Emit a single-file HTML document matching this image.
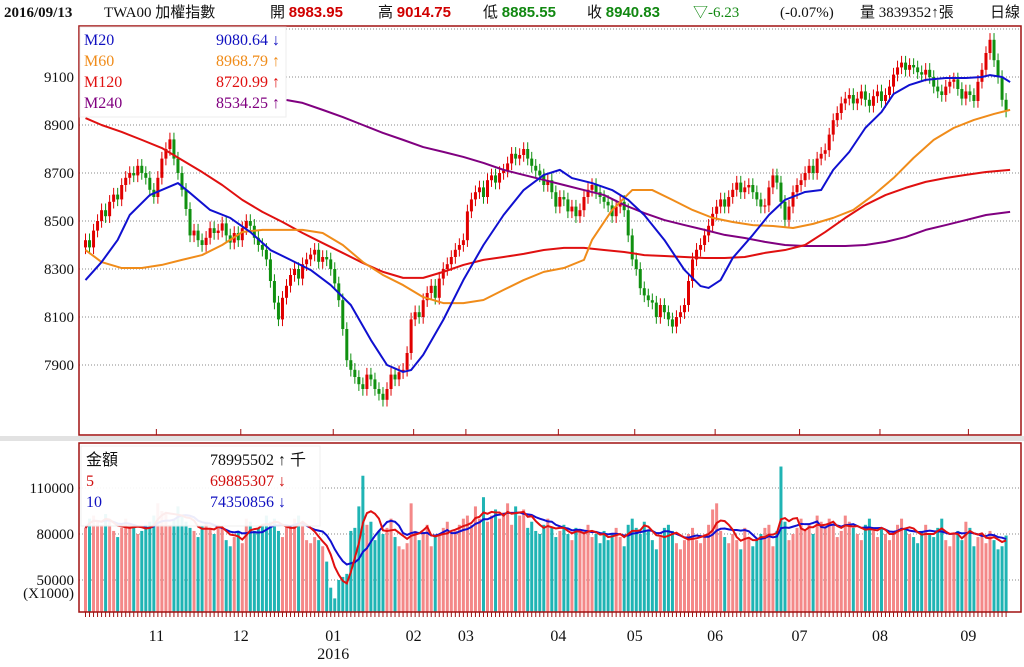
<!DOCTYPE html>
<html><head><meta charset="utf-8">
<style>
html,body{margin:0;padding:0;background:#fff;}
body{width:1024px;height:662px;overflow:hidden;font-family:"Liberation Serif","Noto Serif CJK SC","Noto Sans CJK TC",serif;}
svg text{font-family:"Liberation Serif","Noto Sans CJK TC",serif;}
</style></head>
<body>
<svg id="chart" width="1024" height="662" viewBox="0 0 1024 662" xmlns="http://www.w3.org/2000/svg">
<g id="header" font-size="15">
  <text x="4" y="17" font-weight="bold" fill="#111">2016/09/13</text>
  <text x="104" y="17" fill="#111">TWA00 加權指數</text>
  <text x="270" y="17" fill="#111">開 <tspan fill="#d00000" font-weight="bold" font-family="Liberation Sans">8983.95</tspan></text>
  <text x="378" y="17" fill="#111">高 <tspan fill="#d00000" font-weight="bold" font-family="Liberation Sans">9014.75</tspan></text>
  <text x="483" y="17" fill="#111">低 <tspan fill="#118811" font-weight="bold" font-family="Liberation Sans">8885.55</tspan></text>
  <text x="587" y="17" fill="#111">收 <tspan fill="#118811" font-weight="bold" font-family="Liberation Sans">8940.83</tspan></text>
  <text x="693" y="17" fill="#118811" font-family="Liberation Sans">▽-6.23</text>
  <text x="780" y="17" fill="#111">(-0.07%)</text>
  <text x="860" y="17" fill="#111">量 3839352↑張</text>
  <text x="990" y="17" fill="#111">日線</text>
</g>
<rect x="0" y="436" width="1024" height="5" fill="#e2e2e2"/>
<g id="main"></g>
<g id="vol"></g>
<g id="xaxis"></g>
</svg>
<script>
const closes=[8420,8390,8460,8500,8545,8520,8580,8610,8590,8650,
8680,8700,8690,8730,8700,8680,8630,8600,8680,8760,
8800,8840,8760,8700,8630,8550,8440,8460,8420,8400,
8430,8470,8450,8460,8490,8440,8410,8450,8420,8470,
8500,8480,8430,8400,8380,8340,8250,8160,8090,8180,
8230,8275,8300,8260,8320,8340,8360,8380,8330,8350,
8340,8300,8240,8170,8050,7920,7880,7850,7820,7800,
7860,7840,7800,7780,7755,7800,7860,7840,7870,7880,
7950,8090,8120,8100,8170,8200,8230,8180,8260,8300,
8320,8350,8380,8400,8420,8540,8590,8620,8640,8600,
8670,8690,8660,8700,8710,8740,8780,8760,8775,8800,
8760,8730,8710,8690,8650,8670,8620,8560,8600,8590,
8540,8560,8520,8545,8600,8630,8650,8620,8600,8580,
8565,8520,8560,8580,8545,8440,8340,8300,8220,8190,
8170,8160,8100,8150,8120,8090,8060,8100,8120,8150,
8250,8340,8380,8400,8440,8480,8530,8560,8590,8560,
8600,8630,8660,8620,8640,8650,8620,8590,8560,8565,
8640,8690,8660,8580,8505,8560,8620,8650,8670,8700,
8730,8700,8760,8780,8795,8860,8920,8950,8990,9010,
9025,8990,9010,9040,9005,8980,9020,9040,9000,9025,
9060,9110,9140,9160,9130,9150,9140,9120,9110,9130,
9100,9060,9040,9025,9060,9080,9090,9050,9010,9040,
9025,9000,9080,9130,9200,9255,9170,9100,9005,8960];
const volumes=[84,90,92,88,86,93,88,82,78,84,
90,86,84,80,82,86,88,92,100,95,
94,86,90,98,92,88,84,82,78,85,
88,84,80,86,84,76,72,78,82,74,
90,88,82,84,86,92,88,90,82,78,
86,84,90,92,88,76,74,78,76,72,
62,45,38,50,52,54,82,84,98,118,
86,88,76,82,80,84,90,78,72,70,
74,100,82,76,80,86,72,78,80,84,
88,80,82,86,90,92,86,98,90,104,
88,92,96,90,94,100,86,98,92,96,
84,88,82,80,86,90,84,78,82,86,
80,76,84,82,80,86,78,80,74,82,
76,80,84,78,72,86,90,84,80,88,
82,76,70,78,84,86,82,74,70,76,
80,84,76,74,80,86,96,100,82,78,
74,80,76,70,84,78,72,76,80,84,
86,72,82,124,88,76,80,84,90,82,
86,80,92,88,84,90,86,78,82,92,
88,84,80,76,86,90,82,78,84,80,
76,82,86,90,84,80,78,74,82,86,
80,78,84,90,76,72,80,82,76,88,
84,72,78,80,74,82,76,70,72,79];
const ma20Days=[0,4,8,11,16,23,26,31,36,41,46,51,56,61,66,71,75,79,81,84,89,94,99,104,109,114,118,121,126,131,135,139,144,149,153,155,158,161,166,170,174,179,183,186,190,194,198,201,205,209,214,219,223,225,228,230];
const ma20Vals=[8254,8329,8421,8525,8608,8658,8617,8546,8513,8454,8379,8338,8296,8233,8150,8004,7900,7871,7879,7942,8088,8254,8400,8525,8629,8692,8713,8679,8658,8629,8588,8525,8421,8296,8229,8221,8254,8346,8442,8525,8588,8621,8629,8713,8788,8888,8954,9029,9067,9088,9096,9096,9100,9108,9100,9079];
const ma60Days=[0,4,9,14,19,24,29,34,39,44,49,54,59,64,69,74,79,84,89,94,99,104,109,114,119,124,126,131,136,141,146,151,156,161,166,171,176,181,186,191,196,201,206,211,216,221,226,230];
const ma60Vals=[8379,8329,8304,8304,8317,8338,8358,8400,8454,8463,8463,8463,8450,8400,8329,8275,8233,8183,8158,8158,8171,8213,8254,8288,8304,8338,8421,8546,8629,8629,8588,8546,8513,8496,8483,8479,8471,8488,8513,8546,8608,8679,8763,8838,8888,8921,8946,8963];
const ma120Days=[0,4,9,14,19,24,29,34,39,44,49,54,59,64,69,74,79,84,89,94,99,104,109,114,119,124,129,134,139,144,149,154,159,164,169,174,179,184,189,194,199,204,209,214,219,224,230];
const ma120Vals=[8929,8900,8871,8838,8804,8754,8704,8650,8588,8538,8496,8450,8408,8367,8325,8288,8263,8263,8288,8317,8338,8350,8363,8379,8388,8388,8379,8371,8358,8354,8350,8346,8346,8350,8367,8379,8400,8454,8513,8567,8608,8638,8663,8679,8692,8704,8713];
const ma240Days=[50,54,59,64,69,74,79,84,89,94,99,104,109,114,119,124,129,134,139,144,149,154,159,164,169,174,179,184,189,194,199,204,209,214,219,224,230];
const ma240Vals=[9004,8992,8963,8933,8900,8867,8838,8808,8788,8767,8742,8713,8692,8671,8650,8629,8608,8567,8533,8504,8483,8463,8442,8429,8413,8400,8396,8396,8396,8400,8413,8433,8463,8483,8504,8525,8538];
const priceTicks=[9100,8900,8700,8500,8300,8100,7900];
const priceGrid=[9300,9100,8900,8700,8500,8300,8100,7900];
const volTicks=[110000,80000,50000];
const monthLabels=["11","12","01","02","03","04","05","06","07","08","09"];
const monthDays=[18,39,62,82,95,118,137,157,178,198,220];

const NS="http://www.w3.org/2000/svg";
const L=79,R=1021,MT=26,MB=435,VT=443,VB=612;
const xOf=i=>84+i*4.02;
const yP=p=>77+(9100-p)*0.24;
const yV=v=>534-(v-80000)*46/30000;
function mk(tag,attrs,parent){const e=document.createElementNS(NS,tag);for(const k in attrs)e.setAttribute(k,attrs[k]);parent.appendChild(e);return e;}
const main=document.getElementById('main'),vol=document.getElementById('vol'),xa=document.getElementById('xaxis');

priceGrid.forEach(p=>{const g=mk('line',{x1:L,x2:R,y1:yP(p),y2:yP(p),stroke:'#888','stroke-dasharray':'1,2','stroke-width':1},main);

});
priceTicks.forEach(p=>{const t=mk('text',{x:74,y:yP(p)+5,'text-anchor':'end','font-size':15,fill:'#111'},main);t.textContent=p;

});
const wick=28;
closes.forEach((c,i)=>{const o=i?closes[i-1]:c-30;const up=c>=o;const col=up?'#e00000':'#109010';
const hi=Math.max(o,c)+wick,lo=Math.min(o,c)-wick;const x=xOf(i);
const w=mk('line',{x1:x+1.5,x2:x+1.5,y1:yP(hi),y2:yP(lo),stroke:col,'stroke-width':1},main);


const b=mk('rect',{x:x,y:yP(Math.max(o,c)),width:3,height:Math.max(1,Math.abs(yP(o)-yP(c))),fill:col},main);

});
function ma(days,vals,col,name){const pts=days.map((d,k)=>xOf(d)+1.5+','+yP(vals[k])).join(' ');
const l=mk('polyline',{points:pts,fill:'none',stroke:col,'stroke-width':2,'stroke-linejoin':'round'},main);

}
ma(ma240Days,ma240Vals,'#800080','ma240-line');
ma(ma120Days,ma120Vals,'#e01010','ma120-line');
ma(ma60Days,ma60Vals,'#f08c1a','ma60-line');
ma(ma20Days,ma20Vals,'#1010d0','ma20-line');
const mb=mk('rect',{x:L,y:MT,width:R-L,height:MB-MT,fill:'none',stroke:'#a01010','stroke-width':1.5},main);


monthDays.forEach(d=>{const t=mk('line',{x1:xOf(d),x2:xOf(d),y1:MB-6,y2:MB,stroke:'#a01010'},main);

});
const lg=mk('g',{},main);


mk('rect',{x:80,y:27,width:206,height:90,fill:'#fff',stroke:'#eee'},lg);
[['M20','9080.64 ↓','#1010c0'],['M60','8968.79 ↑','#f08c1a'],['M120','8720.99 ↑','#e01010'],['M240','8534.25 ↑','#800080']].forEach((r,k)=>{
const a=mk('text',{x:84,y:45+k*21,'font-size':16,fill:r[2]},lg);a.textContent=r[0];


const b=mk('text',{x:280,y:45+k*21,'font-size':16,fill:r[2],'text-anchor':'end'},lg);b.textContent=r[1];

});

volTicks.forEach(v=>{const g=mk('line',{x1:L,x2:R,y1:yV(v),y2:yV(v),stroke:'#888','stroke-dasharray':'1,2'},vol);


const t=mk('text',{x:74,y:yV(v)+5,'text-anchor':'end','font-size':15,fill:'#111'},vol);t.textContent=v;

});
const unit=mk('text',{x:74,y:598,'text-anchor':'end','font-size':15,fill:'#111'},vol);unit.textContent='(X1000)';


volumes.forEach((v,i)=>{const o=i?closes[i-1]:closes[i]-30;const up=closes[i]>=o;
const b=mk('rect',{x:xOf(i),y:yV(v*1000),width:3,height:VB-yV(v*1000),fill:up?'#f48888':'#1fb4b4'},vol);

});
function vma(n,col,name){const pts=[];volumes.forEach((v,i)=>{const s=Math.max(0,i-n+1);let t=0;for(let j=s;j<=i;j++)t+=volumes[j];pts.push(xOf(i)+1.5+','+yV(t/(i-s+1)*1000));});
const l=mk('polyline',{points:pts.join(' '),fill:'none',stroke:col,'stroke-width':2},vol);

}
vma(10,'#1010d0','volume-ma10-line');
vma(5,'#e01010','volume-ma5-line');
const vb=mk('rect',{x:L,y:VT,width:R-L,height:VB-VT,fill:'none',stroke:'#a01010','stroke-width':1.5},vol);


const vl=mk('g',{},vol);


mk('rect',{x:81,y:446,width:239,height:80,fill:'#fff',opacity:0.92,stroke:'#eee'},vl);
[['金額','78995502 ↑ 千','#111'],['5','69885307 ↓','#d01010'],['10','74350856 ↓','#1010c0']].forEach((r,k)=>{
const a=mk('text',{x:86,y:465+k*21,'font-size':16,fill:r[2]},vl);a.textContent=r[0];


const b=mk('text',{x:210,y:465+k*21,'font-size':16,fill:r[2]},vl);b.textContent=r[1];

});

closes.forEach((c,i)=>{const t=mk('line',{x1:xOf(i)+1.5,x2:xOf(i)+1.5,y1:VB,y2:VB+5,stroke:'#a01010'},xa);

});
monthDays.forEach((d,k)=>{const t=mk('text',{x:xOf(d),y:641,'text-anchor':'middle','font-size':16,fill:'#111'},xa);t.textContent=monthLabels[k];

});
const yr=mk('text',{x:xOf(62),y:659,'text-anchor':'middle','font-size':16,fill:'#111'},xa);yr.textContent='2016';


</script>
</body></html>
